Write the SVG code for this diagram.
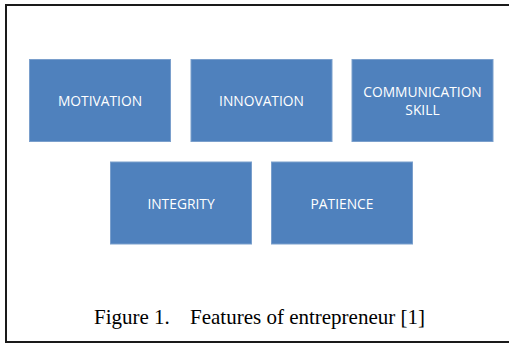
<svg xmlns="http://www.w3.org/2000/svg" width="509" height="344" viewBox="0 0 509 344">
<style>
.box{fill:#4F81BD;stroke:#7A9FCC;stroke-width:1}
.lbl{font-family:"Open Sans","Liberation Sans",sans-serif;font-size:13.8px;fill:#FFFFFF;text-anchor:middle}
.cap{font-family:"Liberation Serif","Times New Roman",serif;font-size:21px;fill:#000000}
</style>
<rect width="509" height="344" fill="#FFFFFF"/>
<path d="M512 5 H6 V342 H512" fill="none" stroke="#1a1a1a" stroke-width="2"/>
<g id="connectors"/>
<g id="motivation">
<rect class="box" x="29.5" y="59.5" width="141" height="82"/>
<text class="lbl" x="100" y="105.5">MOTIVATION</text>
</g>
<g id="innovation">
<rect class="box" x="191" y="59.5" width="141" height="82"/>
<text class="lbl" x="261.5" y="105.5">INNOVATION</text>
</g>
<g id="communication">
<rect class="box" x="352" y="59.5" width="141" height="82"/>
<text class="lbl" x="422.5" y="96.5">COMMUNICATION</text>
<text class="lbl" x="422.5" y="114.5">SKILL</text>
</g>
<g id="integrity">
<rect class="box" x="110.5" y="162" width="141" height="82"/>
<text class="lbl" x="181" y="208.5">INTEGRITY</text>
</g>
<g id="patience">
<rect class="box" x="271.5" y="162" width="141" height="82"/>
<text class="lbl" x="342" y="208.5">PATIENCE</text>
</g>
<text class="cap" x="94" y="324" xml:space="preserve">Figure 1.</text>
<text class="cap" x="190" y="324">Features of entrepreneur [1]</text>
</svg>
